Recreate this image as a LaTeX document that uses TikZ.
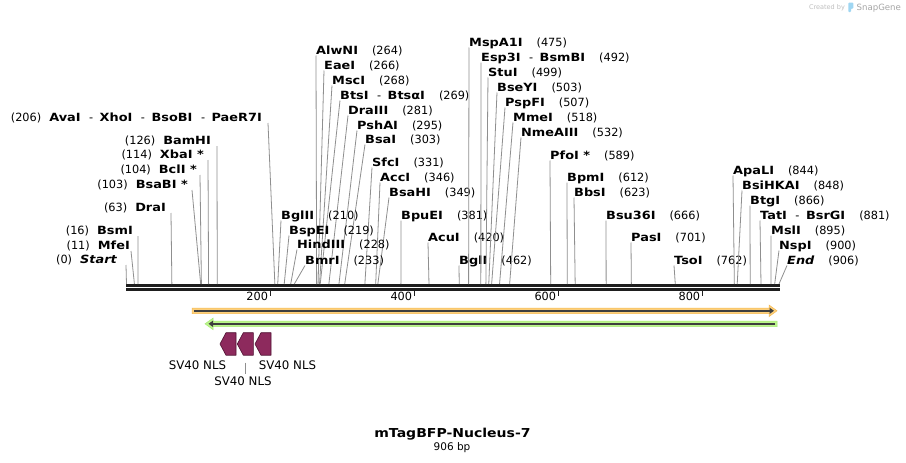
\documentclass[tikz,border=0pt]{standalone}
\usepackage{fontspec}
\setmainfont{DejaVu Sans}[BoldFeatures={FakeStretch=1.14},BoldItalicFeatures={FakeStretch=1.14}]
\usetikzlibrary{calc}
\usetikzlibrary{arrows.meta}
\definecolor{leadgray}{HTML}{8F8F8F}
\definecolor{bbone}{HTML}{1E1E1E}
\definecolor{orhalo}{HTML}{FCCF7C}
\definecolor{orrim}{HTML}{F6B94F}
\definecolor{grhalo}{HTML}{BCF58C}
\definecolor{grrim}{HTML}{A6EA74}
\definecolor{featline}{HTML}{3E3E3E}
\definecolor{nlsfill}{HTML}{8D2A5D}
\definecolor{nlsrim}{HTML}{4F1232}
\definecolor{sgblue}{HTML}{9FD6F2}
\tikzset{
    cutlabel/.style={inner sep=0pt, font=\fontsize{11.3}{13}\selectfont},
    featlabel/.style={inner sep=0pt, font=\fontsize{11.8}{13}\selectfont},
    leader/.style={draw=leadgray, line width=0.8pt},
    nlsarrow/.style={fill=nlsfill, draw=nlsrim, line width=0.6pt, line join=round}
}
\newcommand{\orsep}{{\mdseries\hspace{8.5pt}-\hspace{6.5pt}}}

\begin{document}
\begin{tikzpicture}[x=1pt,y=-1pt]
\useasboundingbox (0,0) rectangle (906,463);
\fill[white] (0,0) rectangle (906,463);
\draw[bbone, line width=2.7pt] (126,285.3) -- (780,285.3);
\draw[bbone, line width=2.4pt] (126,289.5) -- (780,289.5);
\foreach \t in {200,400,600,800}{
\pgfmathsetmacro{\tx}{126.5+0.7202*\t}
\coordinate (tick\t) at (\tx,291);
\draw[bbone, line width=1.3pt] (tick\t) -- ++(0,5);
\node (ticklab\t) at (\tx-2.3,300.7)[cutlabel, anchor=base east] {\t};
}
\foreach \p/\nm/\y/\xe/\xl in {0/{\itshape Start}/259/117/126, 11/MfeI/245/130/131, 16/BsmI/230/133/138, 63/DraI/207/166/171, 103/{BsaBI *}/184/188/192, 104/{BclI *}/169/197/200, 114/{XbaI *}/154/204/208, 126/BamHI/140/211/217, 206/{AvaI\orsep XhoI\orsep BsoBI\orsep PaeR7I}/117/262/268}{
\pgfmathsetmacro{\cx}{126.5+0.7202*\p}
\coordinate (cut\p) at (\cx,284);
\coordinate (foot\p) at (\xl,\y+6);
\node (site\p) at (\xe,\y+4)[cutlabel, anchor=base east] {(\p)\hspace{8pt}{\bfseries\nm}};
\draw[leader] (foot\p) -- (cut\p);
}
\foreach \p/\nm/\y/\xw in {264/AlwNI/50/316, 266/EaeI/65/324, 268/MscI/80/332, 269/{BtsI\orsep BtsαI}/95/340, 281/DraIII/110/348, 295/PshAI/125/357, 303/BsaI/139/365, 331/SfcI/162/372, 346/AccI/177/380, 349/BsaHI/192/389, 210/BglII/215/281, 219/BspEI/230/289, 228/HindIII/244/297, 233/BmrI/260/305, 381/BpuEI/215/401, 420/AcuI/237/428, 462/BglI/260/459, 475/MspA1I/42/469, 492/{Esp3I\orsep BsmBI}/57/481, 499/StuI/72/488, 503/BseYI/87/497, 507/PspFI/102/505, 518/MmeI/117/513, 532/NmeAIII/132/521, 589/{PfoI *}/155/550, 612/BpmI/177/567, 623/BbsI/192/574, 666/Bsu36I/215/606, 701/PasI/237/631, 762/TsoI/260/674, 844/ApaLI/170/733, 848/BsiHKAI/185/742, 866/BtgI/200/750, 881/{TatI\orsep BsrGI}/215/760, 895/MslI/230/771, 900/NspI/245/779, 906/{\itshape End}/260/787}{
\pgfmathsetmacro{\cx}{126.5+0.7202*\p}
\coordinate (cut\p) at (\cx,284);
\coordinate (foot\p) at (\xw,\y+5.5);
\node (site\p) at (\xw,\y+4)[cutlabel, anchor=base west] {{\bfseries\nm}\hspace{14pt}(\p)};
\draw[leader] (foot\p) -- (cut\p);
}
\fill[orhalo, draw=orrim, line width=0.5pt] (192,308) -- (769,308) -- (769,305) -- (777,310.8) -- (769,316.6) -- (769,313.7) -- (192,313.7) -- cycle;
\coordinate (orA) at (194,310.8);
\coordinate (orB) at (774,310.8);
\draw[featline, line width=1.5pt, -{Triangle[length=4.5pt,width=6pt]}] (orA) -- (orB);
\fill[grhalo, draw=grrim, line width=0.5pt] (777,321) -- (213,321) -- (213,318.2) -- (205,323.8) -- (213,329.6) -- (213,326.7) -- (777,326.7) -- cycle;
\coordinate (grA) at (775,323.8);
\coordinate (grB) at (208.5,323.8);
\draw[featline, line width=1.5pt, -{Triangle[length=4.5pt,width=6pt]}] (grA) -- (grB);
\foreach \i/\x in {1/220, 2/237.3, 3/255}{
\draw[nlsarrow] (\x,344) -- (\x+6,332.7) -- (\x+16,332.7) -- (\x+16,355.2) -- (\x+6,355.2) -- cycle;
}
\node (nlslab1) at (197.5,365)[featlabel] {SV40 NLS};
\node (nlslab3) at (287.5,365)[featlabel] {SV40 NLS};
\node (nlslab2) at (243,381.7)[featlabel] {SV40 NLS};
\coordinate (nlstop) at (245.7,362.7);
\coordinate (nlsbot) at (245.7,374.3);
\draw[leader, line width=0.7pt] (nlstop) -- (nlsbot);
\node (title) at (452.5,437.3)[anchor=base, inner sep=0pt, font=\bfseries\fontsize{12.3}{14}\selectfont] {mTagBFP-Nucleus-7};
\node (size) at (452,450.5)[anchor=base, inner sep=0pt, font=\fontsize{10.5}{12}\selectfont] {906 bp};
\node (credit) at (827,9.7)[anchor=base, inner sep=0pt, text=black!25, font=\fontsize{6.5}{8}\selectfont] {Created by};
\fill[sgblue, rounded corners=0.8pt] (848.3,2.7) -- (853.3,2.7) -- (853.3,8.6) -- (851,8.6) -- (851,12) -- (848.3,12) -- cycle;
\node (brand) at (878.8,10.3)[anchor=base, inner sep=0pt, text=black!35, font=\fontsize{8.6}{10}\selectfont] {SnapGene};
\end{tikzpicture}
\end{document}
